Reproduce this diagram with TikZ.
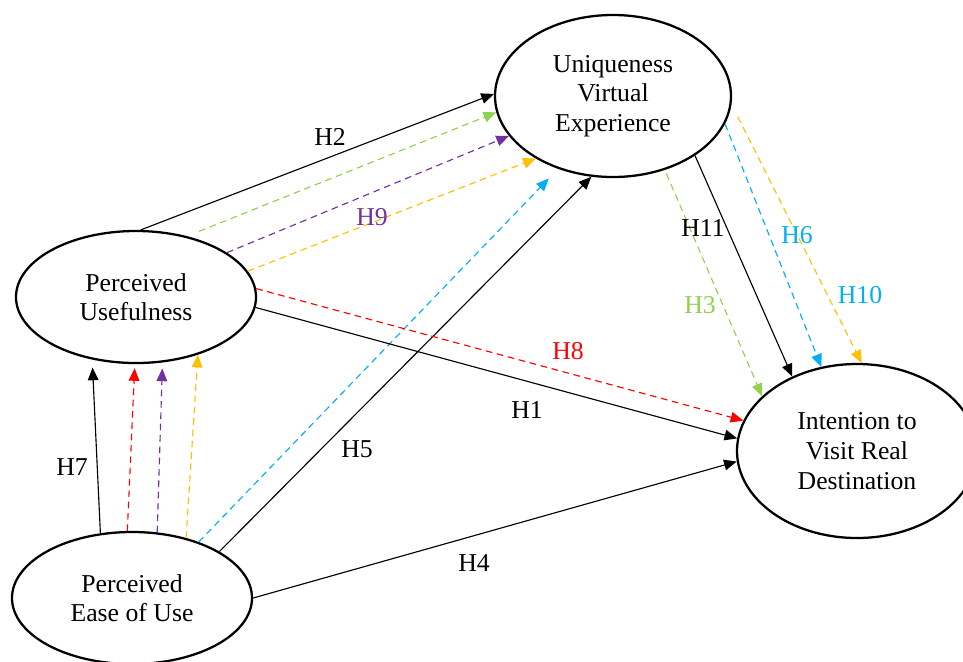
\documentclass[tikz,border=0pt]{standalone}
\usepackage{fontspec}
\setmainfont{Liberation Serif}
\usetikzlibrary{shapes.geometric,arrows.meta}

\definecolor{hgreen}{HTML}{92D050}
\definecolor{hpurple}{HTML}{7030A0}
\definecolor{horange}{HTML}{FFC000}
\definecolor{hcyan}{HTML}{00B0F0}
\definecolor{hred}{HTML}{FF0000}

\tikzset{
  construct/.style={ellipse, draw, line width=1.7pt, inner sep=0pt, align=center, font=\fontsize{19.3}{22.2}\selectfont},
  hyp/.style={-{Triangle[length=9.5pt,width=8pt]}, line width=0.85pt},
  dhyp/.style={hyp, dash pattern=on 5pt off 3.5pt},
  lbl/.style={inner sep=0pt, font=\fontsize{19.3}{22.2}\selectfont}
}

\begin{document}
\begin{tikzpicture}[x=0.75pt,y=0.75pt,yscale=-1,xscale=1]
\useasboundingbox (0,0) rectangle (963,661);

%Shape: Ellipse [uve]
\node[construct, minimum width=177pt, minimum height=121.5pt] (uve) at (613,96) {Uniqueness\\Virtual\\Experience};
%Shape: Ellipse [pu]
\node[construct, minimum width=180pt, minimum height=99pt] (pu) at (136,297) {Perceived\\Usefulness};
%Shape: Ellipse [peou]
\node[construct, minimum width=180pt, minimum height=99pt] (peou) at (132,598) {Perceived\\Ease of Use};
%Shape: Ellipse [ivrd]
\node[construct, minimum width=180pt, minimum height=130.5pt] (ivrd) at (857,451) {Intention to\\Visit Real\\Destination};

%Straight Lines: pu -> uve
\draw[hyp] (pu.86.5) -- (uve.179);
\draw[dhyp, hgreen, shorten <=9.7pt] (pu.50.9) -- (uve.188.3);
\draw[dhyp, hpurple] (pu.26.5) -- (uve.201.7);
\draw[dhyp, horange] (pu.13) -- (uve.219.1);
%Straight Lines: peou -> pu
\draw[hyp, shorten >=6pt] (peou.116.9) -- (pu.235.4);
\draw[dhyp, hred, shorten >=3pt] (peou.94.4) -- (pu.269.3);
\draw[dhyp, hpurple, shorten >=4.5pt] (peou.69.6) -- (pu.292.9);
\draw[dhyp, horange] (peou.48.9) -- (pu.317.7);
%Straight Lines: peou -> uve
\draw[dhyp, hcyan, shorten >=10pt] (peou.40.5) -- (uve.233.6);
\draw[hyp] (peou.28.7) -- (uve.255.8);
%Straight Lines: peou -> ivrd
\draw[hyp] (peou.0) -- (ivrd.185.1);
%Straight Lines: pu -> ivrd
\draw[dhyp, hred] (pu.4.4) -- (ivrd.165.7);
\draw[hyp] (pu.355.3) -- (ivrd.174.8);
%Straight Lines: uve -> ivrd
\draw[dhyp, hgreen, shorten <=3pt] (uve.305.6) -- (ivrd.150.8);
\draw[hyp] (uve.324.6) -- (ivrd.131.3);
\draw[dhyp, hcyan] (uve.346.6) -- (ivrd.113.3);
\draw[dhyp, horange, shorten <=10.5pt] (uve.356.8) -- (ivrd.87);

% Text Node
\node[lbl] (h2) at (330,137) {H2};
\node[lbl, text=hpurple] (h9) at (372,217) {H9};
\node[lbl] (h11) at (703,228) {H11};
\node[lbl, text=hcyan] (h6) at (797,235) {H6};
\node[lbl, text=hgreen] (h3) at (700,305) {H3};
\node[lbl, text=hcyan] (h10) at (860,295) {H10};
\node[lbl, text=hred] (h8) at (568,351) {H8};
\node[lbl] (h1) at (527,410) {H1};
\node[lbl] (h5) at (357,449) {H5};
\node[lbl] (h7) at (72,467) {H7};
\node[lbl] (h4) at (474,563) {H4};

\end{tikzpicture}
\end{document}
